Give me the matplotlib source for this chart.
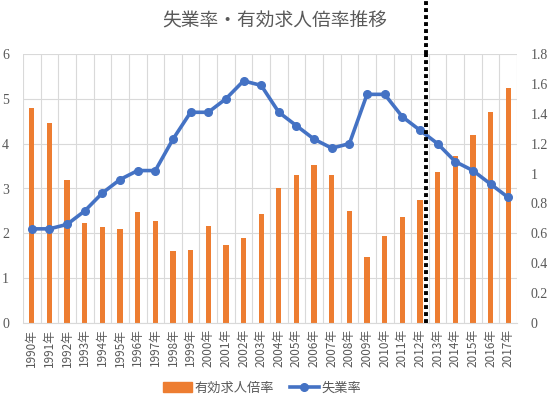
import numpy as np
import matplotlib
matplotlib.use("Agg")
import matplotlib.pyplot as plt
from matplotlib.lines import Line2D
from matplotlib.patches import Patch

plt.rcParams['font.family'] = ['Noto Sans CJK JP', 'DejaVu Sans']

# Data
years = [f"{y}年" for y in range(1990, 2018)]
jobs_ratio = [1.44, 1.34, 0.96, 0.67, 0.64, 0.63, 0.74, 0.68, 0.48, 0.49,
              0.65, 0.52, 0.57, 0.73, 0.90, 0.99, 1.06, 0.99, 0.75, 0.44,
              0.58, 0.71, 0.82, 1.01, 1.12, 1.26, 1.41, 1.57]
unemployment = [2.1, 2.1, 2.2, 2.5, 2.9, 3.2, 3.4, 3.4, 4.1, 4.7,
                4.7, 5.0, 5.4, 5.3, 4.7, 4.4, 4.1, 3.9, 4.0, 5.1,
                5.1, 4.6, 4.3, 4.0, 3.6, 3.4, 3.1, 2.8]
left_ticks = [0, 1, 2, 3, 4, 5, 6]
right_ticks = [0, 0.2, 0.4, 0.6, 0.8, 1, 1.2, 1.4, 1.6, 1.8]
right_labels = ["0", "0.2", "0.4", "0.6", "0.8", "1", "1.2", "1.4", "1.6", "1.8"]
marker_pos = 22.35   # dotted divider, between 2012 and 2013

orange = "#ED7D31"
blue = "#4472C4"
grid = "#D9D9D9"
txt = "#595959"

fig = plt.figure(figsize=(5.52, 4.09), dpi=100)
ax = fig.add_axes([23 / 552, 1 - 323 / 409, 494 / 552, 269 / 409])
ax2 = ax.twinx()

x = np.arange(len(years))
n = len(years)

# line on left axis, bars on right axis; draw bars below line
ax2.bar(x, jobs_ratio, width=0.3, color=orange, zorder=2)
ax2.set_ylim(0, 1.8)
ax.set_ylim(0, 6)
ax.set_xlim(-0.5, n - 0.5)

ax.set_zorder(ax2.get_zorder() + 1)
ax.patch.set_visible(False)
ax.plot(x, unemployment, color=blue, lw=2.6, marker='o', ms=5.5, zorder=3)

# gridlines
for v in left_ticks:
    ax2.axhline(v / 6 * 1.8, color=grid, lw=0.8, zorder=0)
for b in np.arange(-0.5, n, 1.0):
    ax2.axvline(b, color=grid, lw=0.8, zorder=0)

for a in (ax, ax2):
    for s in a.spines.values():
        s.set_visible(False)
ax2.spines['bottom'].set_visible(True)
ax2.spines['bottom'].set_color(grid)

ax.set_yticks(left_ticks)
ax.set_yticklabels([str(v) for v in left_ticks], family='Liberation Serif', fontsize=10, color=txt)
ax2.set_yticks(right_ticks)
ax2.set_yticklabels(right_labels, family='Liberation Serif', fontsize=10, color=txt)
ax.tick_params(axis='y', length=0, pad=10)
ax2.tick_params(axis='y', length=0, pad=10)
ax.set_xticks(x)
ax.set_xticklabels(years, rotation=90, fontsize=8.5, color=txt)
ax.tick_params(axis='x', length=0, pad=4)

# dotted divider reaching to the top of the figure
div = Line2D([marker_pos, marker_pos], [0, 1], transform=ax.get_xaxis_transform(),
             color='black', lw=2.8, ls=(0, (1, 0.8)), zorder=5, clip_on=False)
ax.add_line(div)
ax.annotate("", xy=(marker_pos, 1), xycoords=('data', 'axes fraction'))
div2 = Line2D([marker_pos, marker_pos], [1, 323 / 269], transform=ax.get_xaxis_transform(),
              color='black', lw=2.8, ls=(0, (1, 0.8)), zorder=5, clip_on=False)
ax.add_line(div2)

fig.text(275 / 552, 1 - 21 / 409, "失業率・有効求人倍率推移", ha='center', va='center',
         fontsize=13.5, color=txt)

handles = [Patch(color=orange), Line2D([], [], color=blue, lw=2.6, marker='o', ms=5.5)]
fig.legend(handles, ["有効求人倍率", "失業率"], loc='center', bbox_to_anchor=(262 / 552, 1 - 388 / 409),
           ncol=2, frameon=False, fontsize=9.5, labelcolor=txt, handlelength=2.2,
           handletextpad=0.2, columnspacing=1.2)

fig.savefig("out.png", dpi=100)
